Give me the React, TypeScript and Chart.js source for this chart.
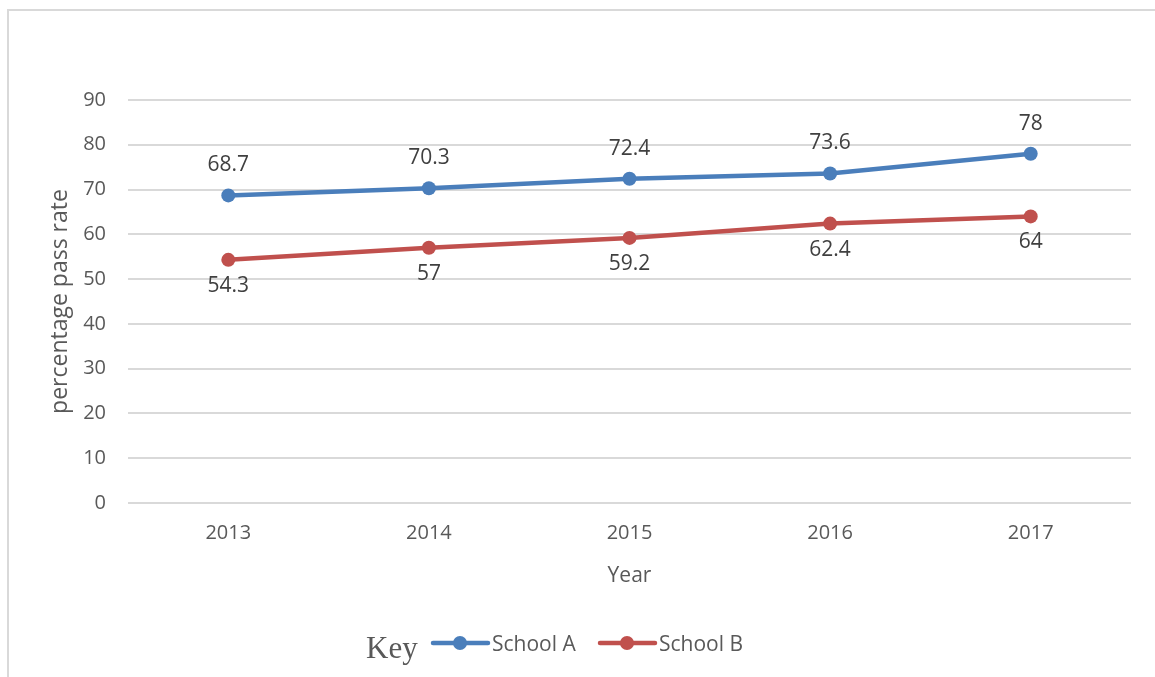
import React, { useEffect, useRef } from "react";
import { Chart, registerables } from "chart.js";

Chart.register(...registerables);

const years = ["2013", "2014", "2015", "2016", "2017"];
const schoolA = [68.7, 70.3, 72.4, 73.6, 78];
const schoolB = [54.3, 57, 59.2, 62.4, 64];
const seriesNames = ["School A", "School B"];
const yTitle = "percentage pass rate";
const xTitle = "Year";
const keyLabel = "Key";

const BLUE = "#4a7ebb";
const RED = "#c0504d";
const TEXT = "#595959";
const FONT = "'Open Sans', 'Noto Sans', sans-serif";

const dataLabelPlugin = {
  id: "dataLabels",
  afterDatasetsDraw(chart: any) {
    const ctx = chart.ctx;
    ctx.save();
    ctx.font = `21px ${FONT}`;
    ctx.fillStyle = "#404040";
    ctx.textAlign = "center";
    ctx.textBaseline = "alphabetic";
    chart.data.datasets.forEach((ds: any, di: number) => {
      const meta = chart.getDatasetMeta(di);
      meta.data.forEach((pt: any, i: number) => {
        const v = ds.data[i];
        const y = di === 0 ? pt.y - 24 : pt.y + 32;
        ctx.fillText(String(v), pt.x, y);
      });
    });
    ctx.restore();
  },
};

const keyLegendPlugin = {
  id: "keyLegend",
  afterDraw(chart: any) {
    const ctx = chart.ctx;
    ctx.save();
    ctx.fillStyle = TEXT;
    ctx.font = "31px 'Liberation Serif', 'DejaVu Serif', serif";
    ctx.textAlign = "left";
    ctx.textBaseline = "alphabetic";
    ctx.fillText(keyLabel, 366, 658);
    const starts = [433, 600];
    const lineY = 643;
    chart.data.datasets.forEach((ds: any, i: number) => {
      const x0 = starts[i];
      ctx.strokeStyle = ds.borderColor;
      ctx.lineWidth = 4.5;
      ctx.lineCap = "round";
      ctx.beginPath();
      ctx.moveTo(x0, lineY);
      ctx.lineTo(x0 + 55, lineY);
      ctx.stroke();
      ctx.fillStyle = ds.borderColor;
      ctx.beginPath();
      ctx.arc(x0 + 27, lineY, 7, 0, Math.PI * 2);
      ctx.fill();
      ctx.fillStyle = TEXT;
      ctx.font = `21px ${FONT}`;
      ctx.fillText(ds.label, x0 + 59, 651);
    });
    ctx.restore();
  },
};

export default function App() {
  const ref = useRef<HTMLCanvasElement | null>(null);

  useEffect(() => {
    document.body.style.overflow = "hidden";
    const canvas = ref.current!;
    const chart = new Chart(canvas, {
      type: "line",
      data: {
        labels: years,
        datasets: [
          {
            label: seriesNames[0],
            data: schoolA,
            borderColor: BLUE,
            backgroundColor: BLUE,
            borderWidth: 4.5,
            pointRadius: 7,
            pointHoverRadius: 7,
            pointBackgroundColor: BLUE,
            pointBorderWidth: 0,
            tension: 0,
          },
          {
            label: seriesNames[1],
            data: schoolB,
            borderColor: RED,
            backgroundColor: RED,
            borderWidth: 4.5,
            pointRadius: 7,
            pointHoverRadius: 7,
            pointBackgroundColor: RED,
            pointBorderWidth: 0,
            tension: 0,
          },
        ],
      },
      options: {
        responsive: false,
        animation: false,
        devicePixelRatio: 1,
        layout: { padding: { left: 40, right: 24, top: 100, bottom: 84 } },
        plugins: {
          legend: { display: false },
          tooltip: { enabled: false },
        },
        scales: {
          x: {
            type: "category",
            offset: true,
            grid: { display: false, drawTicks: false },
            border: { display: false },
            ticks: {
              color: TEXT,
              font: { family: FONT, size: 20 },
              padding: 18,
              maxRotation: 0,
            },
            title: {
              display: true,
              text: xTitle,
              color: TEXT,
              font: { family: FONT, size: 21 },
              padding: { top: 0, bottom: 4 },
            },
            afterFit: (s: any) => {
              s.height = 90;
            },
          },
          y: {
            min: 0,
            max: 90,
            grid: { color: "#d9d9d9", lineWidth: 2, drawTicks: false },
            border: { display: false },
            ticks: {
              stepSize: 10,
              color: TEXT,
              font: { family: FONT, size: 20 },
              padding: 22,
            },
            title: {
              display: true,
              text: yTitle,
              color: TEXT,
              font: { family: FONT, size: 23 },
              padding: { top: 7, bottom: 0 },
            },
            afterFit: (s: any) => {
              s.width = 88;
            },
          },
        },
      },
      plugins: [dataLabelPlugin, keyLegendPlugin],
    } as any);
    return () => chart.destroy();
  }, []);

  return (
    <>
      <div
        style={{
          position: "fixed",
          left: 7,
          top: 9,
          width: 2000,
          height: 2000,
          borderLeft: "2px solid #d9d9d9",
          borderTop: "2px solid #d9d9d9",
        }}
      />
      <canvas
        ref={ref}
        width={1155}
        height={677}
        style={{ position: "fixed", left: 0, top: 0, width: 1155, height: 677 }}
      />
    </>
  );
}
